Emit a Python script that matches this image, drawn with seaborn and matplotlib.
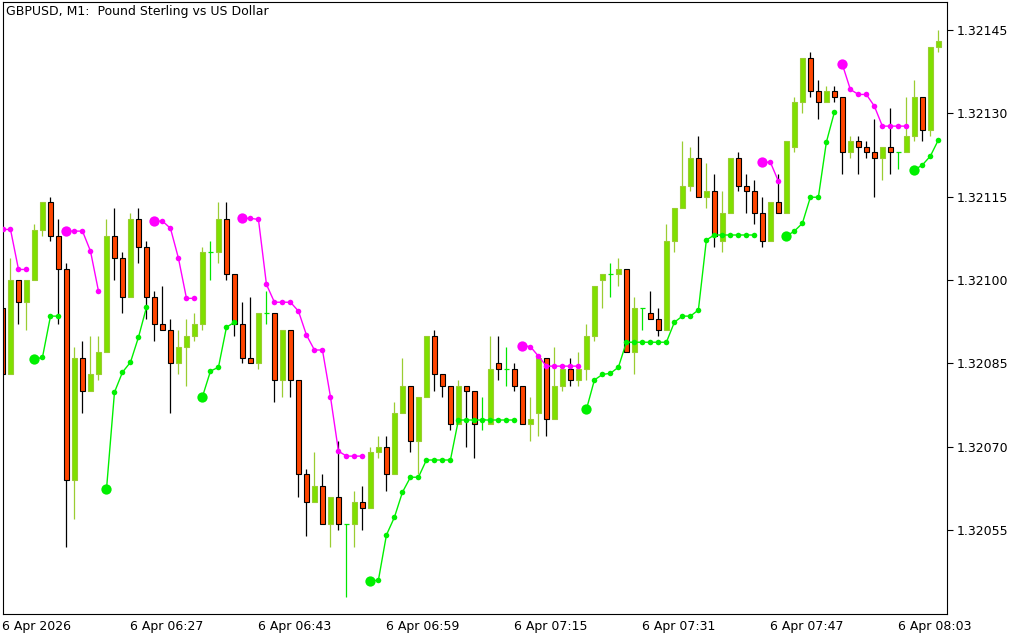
import numpy as np
import pandas as pd
import matplotlib
matplotlib.use("Agg")
import matplotlib.pyplot as plt
import seaborn as sns

# ---------------------------------------------------------
# GBPUSD M1 candles, 06:11 .. 08:08
# ---------------------------------------------------------
opens = [1.32095, 1.32083, 1.32100, 1.32096, 1.32100, 1.32109, 1.32114, 1.32108, 1.32102, 1.32064,
         1.32086, 1.32080, 1.32083, 1.32087, 1.32108, 1.32104, 1.32097, 1.32111, 1.32106, 1.32097,
         1.32092, 1.32091, 1.32085, 1.32088, 1.32090, 1.32092, 1.32105, 1.32105, 1.32111, 1.32101,
         1.32092, 1.32086, 1.32085, 1.32094, 1.32094, 1.32082, 1.32091, 1.32082, 1.32065, 1.32060,
         1.32063, 1.32056, 1.32061, 1.32056, 1.32056, 1.32060, 1.32059, 1.32069, 1.32070, 1.32065,
         1.32076, 1.32081, 1.32071, 1.32079, 1.32090, 1.32083, 1.32081, 1.32074, 1.32081, 1.32080,
         1.32075, 1.32074, 1.32085, 1.32084, 1.32084, 1.32081, 1.32074, 1.32076, 1.32086, 1.32075,
         1.32081, 1.32084, 1.32082, 1.32084, 1.32090, 1.32100, 1.32101, 1.32101, 1.32102, 1.32087,
         1.32095, 1.32094, 1.32093, 1.32091, 1.32107, 1.32113, 1.32117, 1.32122, 1.32115, 1.32116,
         1.32107, 1.32112, 1.32122, 1.32117, 1.32116, 1.32112, 1.32107, 1.32114, 1.32112, 1.32124,
         1.32132, 1.32140, 1.32134, 1.32132, 1.32134, 1.32133, 1.32123, 1.32125, 1.32124, 1.32123,
         1.32122, 1.32124, 1.32123, 1.32123, 1.32126, 1.32133, 1.32127, 1.32142]
highs = [1.32095, 1.32104, 1.32100, 1.32100, 1.32110, 1.32114, 1.32115, 1.32111, 1.32103, 1.32088,
         1.32089, 1.32090, 1.32090, 1.32111, 1.32113, 1.32105, 1.32112, 1.32113, 1.32107, 1.32098,
         1.32099, 1.32093, 1.32091, 1.32093, 1.32094, 1.32106, 1.32107, 1.32114, 1.32114, 1.32101,
         1.32096, 1.32097, 1.32094, 1.32098, 1.32094, 1.32091, 1.32091, 1.32082, 1.32066, 1.32069,
         1.32065, 1.32061, 1.32071, 1.32056, 1.32062, 1.32063, 1.32070, 1.32072, 1.32072, 1.32078,
         1.32086, 1.32081, 1.32079, 1.32090, 1.32091, 1.32083, 1.32081, 1.32082, 1.32081, 1.32080,
         1.32079, 1.32090, 1.32090, 1.32088, 1.32085, 1.32081, 1.32079, 1.32086, 1.32086, 1.32088,
         1.32084, 1.32086, 1.32087, 1.32092, 1.32099, 1.32101, 1.32103, 1.32104, 1.32102, 1.32097,
         1.32095, 1.32098, 1.32095, 1.32110, 1.32113, 1.32125, 1.32124, 1.32126, 1.32121, 1.32119,
         1.32116, 1.32122, 1.32123, 1.32119, 1.32118, 1.32115, 1.32114, 1.32119, 1.32125, 1.32133,
         1.32140, 1.32141, 1.32136, 1.32135, 1.32135, 1.32133, 1.32126, 1.32126, 1.32125, 1.32129,
         1.32124, 1.32131, 1.32123, 1.32133, 1.32136, 1.32133, 1.32142, 1.32145]
lows = [1.32083, 1.32083, 1.32092, 1.32091, 1.32100, 1.32108, 1.32107, 1.32092, 1.32052, 1.32057,
        1.32076, 1.32080, 1.32082, 1.32087, 1.32100, 1.32094, 1.32097, 1.32103, 1.32093, 1.32089,
        1.32091, 1.32076, 1.32083, 1.32081, 1.32089, 1.32091, 1.32100, 1.32103, 1.32100, 1.32090,
        1.32085, 1.32085, 1.32084, 1.32092, 1.32078, 1.32079, 1.32079, 1.32061, 1.32054, 1.32060,
        1.32056, 1.32052, 1.32055, 1.32043, 1.32052, 1.32055, 1.32059, 1.32068, 1.32062, 1.32065,
        1.32076, 1.32069, 1.32065, 1.32079, 1.32080, 1.32079, 1.32073, 1.32074, 1.32070, 1.32068,
        1.32073, 1.32074, 1.32082, 1.32081, 1.32080, 1.32074, 1.32071, 1.32072, 1.32072, 1.32075,
        1.32080, 1.32081, 1.32081, 1.32082, 1.32089, 1.32095, 1.32097, 1.32099, 1.32087, 1.32083,
        1.32091, 1.32093, 1.32090, 1.32091, 1.32105, 1.32113, 1.32116, 1.32115, 1.32113, 1.32106,
        1.32105, 1.32112, 1.32116, 1.32112, 1.32110, 1.32106, 1.32107, 1.32112, 1.32112, 1.32123,
        1.32130, 1.32133, 1.32129, 1.32132, 1.32132, 1.32119, 1.32122, 1.32119, 1.32122, 1.32115,
        1.32118, 1.32119, 1.32120, 1.32123, 1.32125, 1.32125, 1.32126, 1.32141]
closes = [1.32083, 1.32100, 1.32096, 1.32100, 1.32109, 1.32114, 1.32108, 1.32102, 1.32064, 1.32086,
          1.32080, 1.32083, 1.32087, 1.32108, 1.32104, 1.32097, 1.32111, 1.32106, 1.32097, 1.32092,
          1.32091, 1.32085, 1.32088, 1.32090, 1.32092, 1.32105, 1.32105, 1.32111, 1.32101, 1.32092,
          1.32086, 1.32085, 1.32094, 1.32094, 1.32082, 1.32091, 1.32082, 1.32065, 1.32060, 1.32063,
          1.32056, 1.32061, 1.32056, 1.32056, 1.32060, 1.32059, 1.32069, 1.32070, 1.32065, 1.32076,
          1.32081, 1.32071, 1.32079, 1.32090, 1.32083, 1.32081, 1.32074, 1.32081, 1.32080, 1.32074,
          1.32075, 1.32084, 1.32084, 1.32084, 1.32081, 1.32074, 1.32075, 1.32086, 1.32075, 1.32081,
          1.32084, 1.32082, 1.32084, 1.32090, 1.32099, 1.32101, 1.32101, 1.32102, 1.32087, 1.32095,
          1.32095, 1.32093, 1.32091, 1.32107, 1.32113, 1.32117, 1.32122, 1.32115, 1.32116, 1.32108,
          1.32112, 1.32122, 1.32117, 1.32116, 1.32112, 1.32107, 1.32114, 1.32112, 1.32125, 1.32132,
          1.32140, 1.32134, 1.32132, 1.32134, 1.32133, 1.32123, 1.32125, 1.32124, 1.32123, 1.32122,
          1.32124, 1.32123, 1.32123, 1.32126, 1.32133, 1.32127, 1.32142, 1.32143]

# trailing-stop indicator: upper (sell) and lower (buy) lines, None = not drawn
N = None
upper_line = [1.321091, 1.321091, 1.321019, 1.321019, N, N, N, N, 1.321088, 1.321088,
              1.321088, 1.321052, 1.320980, N, N, N, N, N, N, 1.321106,
              1.321106, 1.321093, 1.321039, 1.320967, 1.320967, N, N, N, N, N,
              1.321111, 1.321111, 1.321109, 1.320992, 1.320960, 1.320960, 1.320960, 1.320944, 1.320901, 1.320874,
              1.320874, 1.320790, 1.320692, 1.320683, 1.320683, 1.320683, N, N, N, N,
              N, N, N, N, N, N, N, N, N, N,
              N, N, N, N, N, 1.320882, 1.320880, 1.320863, 1.320845, 1.320845,
              1.320845, 1.320845, 1.320845, N, N, N, N, N, N, N,
              N, N, N, N, N, N, N, N, N, N,
              N, N, N, N, N, 1.321212, 1.321212, 1.321178, N, N,
              N, N, N, N, N, 1.321388, 1.321343, 1.321334, 1.321334, 1.321313,
              1.321277, 1.321277, 1.321277, 1.321277, N, N, N, N]
lower_line = [N, N, N, N, 1.320857, 1.320861, 1.320935, 1.320935, N, N,
              N, N, N, 1.320623, 1.320798, 1.320834, 1.320852, 1.320897, 1.320951, N,
              N, N, N, N, N, 1.320790, 1.320836, 1.320843, 1.320915, 1.320924,
              N, N, N, N, N, N, N, N, N, N,
              N, N, N, N, N, N, 1.320458, 1.320460, 1.320541, 1.320573,
              1.320618, 1.320645, 1.320645, 1.320676, 1.320676, 1.320676, 1.320676, 1.320748, 1.320748, 1.320748,
              1.320748, 1.320748, 1.320748, 1.320748, 1.320748, N, N, N, N, N,
              N, N, N, 1.320767, 1.320820, 1.320830, 1.320832, 1.320843, 1.320888, 1.320888,
              1.320888, 1.320888, 1.320888, 1.320888, 1.320924, 1.320935, 1.320935, 1.320946, 1.321072, 1.321081,
              1.321081, 1.321081, 1.321081, 1.321081, 1.321081, N, N, N, 1.321079, 1.321088,
              1.321102, 1.321149, 1.321149, 1.321248, 1.321302, N, N, N, N, N,
              N, N, N, N, 1.321198, 1.321207, 1.321223, 1.321252]

time_labels = ["6 Apr 2026", "6 Apr 06:27", "6 Apr 06:43", "6 Apr 06:59",
               "6 Apr 07:15", "6 Apr 07:31", "6 Apr 07:47", "6 Apr 08:03"]
price_ticks = [1.32055, 1.32070, 1.32085, 1.32100, 1.32115, 1.32130, 1.32145]
title = "GBPUSD, M1:  Pound Sterling vs US Dollar"

# ---------------------------------------------------------
sns.set_style("white")
plt.rcParams['font.family'] = ['DejaVu Sans']

BULL_FILL = "#7fe000"
BULL_EDGE = "#9acd32"
BEAR_FILL = "#ff4500"
DOJI = "#00e600"

df = pd.DataFrame({"o": opens, "h": highs, "l": lows, "c": closes})
df["k"] = np.arange(len(df))
bull = df[df.c > df.o]
bear = df[df.c < df.o]
doji = df[df.c == df.o]

fig = plt.figure(figsize=(10.24, 6.4), dpi=100)
ax = fig.add_axes([2.5 / 1024, 26.5 / 640, 944 / 1024, 612 / 640])

body_w = 0.62
# wicks
ax.vlines(bull.k, bull.l, bull.h, color=BULL_EDGE, lw=0.9, zorder=1)
ax.vlines(bear.k, bear.l, bear.h, color="black", lw=0.9, zorder=1)
ax.vlines(doji.k, doji.l, doji.h, color=DOJI, lw=0.9, zorder=1)
ax.hlines(doji.o, doji.k - body_w / 2, doji.k + body_w / 2, color=DOJI, lw=0.9, zorder=1)
# bodies
ax.bar(bull.k, bull.c - bull.o, bottom=bull.o, width=body_w,
       color=BULL_FILL, edgecolor=BULL_EDGE, linewidth=0.8, zorder=2)
ax.bar(bear.k, bear.o - bear.c, bottom=bear.c, width=body_w,
       color=BEAR_FILL, edgecolor="black", linewidth=0.8, zorder=2)


def indicator_frame(values):
    s = pd.Series(values, dtype=float)
    d = pd.DataFrame({"k": np.arange(len(s)), "price": s})
    d["seg"] = s.isna().cumsum()
    d["start"] = s.notna() & s.shift(1).isna() & (d.k > 0)
    return d.dropna(subset=["price"])


for vals, col in [(upper_line, "#ff00ff"), (lower_line, "#00f000")]:
    d = indicator_frame(vals)
    sns.lineplot(data=d, x="k", y="price", units="seg", estimator=None,
                 color=col, lw=1.0, ax=ax, legend=False, zorder=3)
    sns.scatterplot(data=d[~d.start], x="k", y="price", color=col, s=16,
                    linewidth=0, ax=ax, legend=False, zorder=4)
    sns.scatterplot(data=d[d.start], x="k", y="price", color=col, s=55,
                    linewidth=0, ax=ax, legend=False, zorder=4)

ax.set_xlim(0.02, 118.02)
ax.set_ylim(1.3203997, 1.3215013)
ax.set_xlabel("")
ax.set_ylabel("")

ax.yaxis.tick_right()
ax.set_yticks(price_ticks)
ax.set_yticklabels([f"{p:.5f}" for p in price_ticks])
ax.tick_params(axis="y", direction="out", length=4, width=0.8, pad=3, labelsize=9, colors="black")

ax.set_xticks(np.arange(len(time_labels)) * 16)
ax.set_xticklabels(time_labels, ha="left")
ax.tick_params(axis="x", direction="out", length=3, width=0.8, pad=2, labelsize=9, colors="black")

for sp in ax.spines.values():
    sp.set_color("black")
    sp.set_linewidth(0.8)

fig.text(6 / 1024, 1 - 12 / 640, title, fontsize=9, va="center", ha="left", color="black")

fig.savefig("out.png", dpi=100, facecolor="white")
